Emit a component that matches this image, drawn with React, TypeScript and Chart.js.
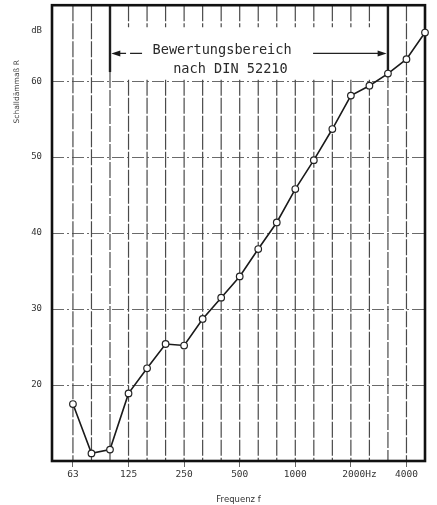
import { useEffect, useRef } from 'react';
import { Chart, registerables } from 'chart.js';

Chart.register(...registerables);

// Third-octave band centre frequencies (Hz)
const bandLabels = ['63', '80', '100', '125', '160', '200', '250', '315', '400', '500', '630', '800', '1000', '1250', '1600', '2000', '2500', '3150', '4000', '5000'];
// Schalldämmaß R (dB)
const soundReduction = [17.5, 11.0, 11.5, 18.9, 22.2, 25.4, 25.2, 28.7, 31.5, 34.3, 37.9, 41.4, 45.8, 49.6, 53.7, 58.1, 59.4, 61.0, 62.9, 66.4];

const xTickBands = ['63', '125', '250', '500', '1000', '2000', '4000'];
const xTickLabels = ['63', '125', '250', '500', '1000', '   2000Hz', '4000'];
const yTickValues = [20, 30, 40, 50, 60];
const yUnitLabel = 'dB';
const yUnitValue = 66.6;
const yTitle = 'Schalldämmaß R';
const xTitle = 'Frequenz f';

const ratingStart = '100';
const ratingEnd = '3150';
const ratingText = ['Bewertungsbereich', 'nach DIN 52210'];

const FONT_MONO = '"DejaVu Sans Mono", monospace';
const FONT_SANS = '"DejaVu Sans", sans-serif';

const idx = (f: string) => bandLabels.indexOf(f);

const overlayPlugin = {
  id: 'overlay',
  beforeDatasetsDraw(chart: any) {
    const { ctx, chartArea } = chart;
    const xs = chart.scales.x;
    const ys = chart.scales.y;
    const top = chartArea.top;
    const bottom = chartArea.bottom;
    const iStart = idx(ratingStart);
    const iEnd = idx(ratingEnd);
    const gapTop = ys.getPixelForValue(67.1);
    const gapBottom = ys.getPixelForValue(60.2);
    const thickEnd = ys.getPixelForValue(61.2);

    ctx.save();
    // vertical band lines
    for (let i = 0; i < bandLabels.length - 1; i++) {
      const x = xs.getPixelForValue(i);
      ctx.strokeStyle = '#4a4a4a';
      ctx.lineWidth = 1.2;
      ctx.setLineDash([16, 2]);
      ctx.beginPath();
      if (i > iStart && i < iEnd) {
        ctx.moveTo(x, top);
        ctx.lineTo(x, gapTop);
        ctx.moveTo(x, gapBottom);
        ctx.lineTo(x, bottom);
      } else if (i === iStart || i === iEnd) {
        ctx.moveTo(x, thickEnd);
        ctx.lineTo(x, bottom);
      } else {
        ctx.moveTo(x, top);
        ctx.lineTo(x, bottom);
      }
      ctx.stroke();
      if (i === iStart || i === iEnd) {
        ctx.setLineDash([]);
        ctx.strokeStyle = '#1e1e1e';
        ctx.lineWidth = 2.4;
        ctx.beginPath();
        ctx.moveTo(x, top);
        ctx.lineTo(x, thickEnd);
        ctx.stroke();
      }
    }
    ctx.setLineDash([]);

    // annotation text
    ctx.fillStyle = '#2a2a2a';
    ctx.font = `13.6px ${FONT_MONO}`;
    ctx.textAlign = 'center';
    ctx.textBaseline = 'middle';
    ctx.fillText(ratingText[0], xs.getPixelForValue(8.05), ys.getPixelForValue(64.1));
    ctx.fillText(ratingText[1], xs.getPixelForValue(8.5), ys.getPixelForValue(61.6));

    // arrows
    const ay = ys.getPixelForValue(63.65);
    const drawArrow = (fromV: number, toV: number, dashed: boolean) => {
      const x1 = xs.getPixelForValue(fromV);
      const x2 = xs.getPixelForValue(toV);
      const dir = Math.sign(x2 - x1);
      ctx.strokeStyle = '#222';
      ctx.lineWidth = 1.2;
      ctx.setLineDash(dashed ? [12, 4] : []);
      ctx.beginPath();
      ctx.moveTo(x1, ay);
      ctx.lineTo(x2 - dir * 6, ay);
      ctx.stroke();
      ctx.setLineDash([]);
      ctx.fillStyle = '#1a1a1a';
      ctx.beginPath();
      ctx.moveTo(x2, ay);
      ctx.lineTo(x2 - dir * 9, ay - 3);
      ctx.lineTo(x2 - dir * 9, ay + 3);
      ctx.closePath();
      ctx.fill();
    };
    drawArrow(3.73, iStart + 0.07, true);
    drawArrow(12.96, iEnd - 0.07, false);

    // frame
    ctx.strokeStyle = '#111';
    ctx.lineWidth = 2.6;
    ctx.strokeRect(chartArea.left, chartArea.top, chartArea.right - chartArea.left, chartArea.bottom - chartArea.top);

    // y axis title
    ctx.save();
    ctx.translate(17, ys.getPixelForValue(58.6));
    ctx.rotate(-Math.PI / 2);
    ctx.fillStyle = '#444';
    ctx.font = `7.5px ${FONT_SANS}`;
    ctx.textAlign = 'center';
    ctx.textBaseline = 'middle';
    ctx.fillText(yTitle, 0, 0);
    ctx.restore();

    ctx.restore();
  },
};

export default function App() {
  const ref = useRef<HTMLCanvasElement | null>(null);

  useEffect(() => {
    document.body.style.margin = '0';
    const canvas = ref.current;
    if (!canvas) return;
    const chart = new Chart(canvas, {
      type: 'line',
      data: {
        datasets: [
          {
            data: soundReduction.map((v, i) => ({ x: i, y: v })),
            borderColor: '#1a1a1a',
            borderWidth: 1.6,
            pointRadius: 3.3,
            pointBackgroundColor: '#ffffff',
            pointBorderColor: '#222',
            pointBorderWidth: 1.2,
            tension: 0,
            clip: false as any,
          },
        ],
      },
      options: {
        responsive: false,
        animation: false,
        devicePixelRatio: 1,
        layout: { padding: { top: 3, right: 12, left: 0, bottom: 0 } },
        plugins: { legend: { display: false }, tooltip: { enabled: false } },
        scales: {
          x: {
            type: 'linear',
            min: -1.13,
            max: 19,
            afterBuildTicks: (scale: any) => {
              scale.ticks = xTickBands.map((f) => ({ value: idx(f) }));
            },
            afterFit: (scale: any) => {
              scale.height = 44;
              scale.paddingLeft = 0;
              scale.paddingRight = 0;
            },
            ticks: {
              autoSkip: false,
              maxRotation: 0,
              padding: 2,
              color: '#333',
              font: { family: FONT_MONO, size: 9.5 },
              callback: (v: any) => {
                const k = xTickBands.findIndex((f) => idx(f) === v);
                return k >= 0 ? xTickLabels[k] : '';
              },
            },
            grid: { drawOnChartArea: false, drawTicks: true, tickLength: 6, color: '#666', lineWidth: 1 },
            border: { display: false },
            title: {
              display: true,
              text: xTitle,
              color: '#333',
              font: { family: FONT_SANS, size: 8.5 },
              padding: { top: 2, bottom: 0 },
            },
          },
          y: {
            type: 'linear',
            min: 10,
            max: 70,
            afterBuildTicks: (scale: any) => {
              scale.ticks = [...yTickValues, yUnitValue].map((v) => ({ value: v }));
            },
            afterFit: (scale: any) => {
              scale.width = 52;
              scale.paddingTop = 0;
              scale.paddingBottom = 0;
            },
            ticks: {
              padding: 10,
              color: '#333',
              font: { family: FONT_MONO, size: 9 },
              callback: (v: any) => (v === yUnitValue ? yUnitLabel : String(v)),
            },
            grid: {
              drawTicks: false,
              lineWidth: 1,
              color: (c: any) => (c.tick && yTickValues.includes(c.tick.value) ? '#6a6a6a' : 'rgba(0,0,0,0)'),
            },
            border: { display: false, dash: [12, 3, 2, 3] },
          },
        },
      },
      plugins: [overlayPlugin],
    });
    return () => chart.destroy();
  }, []);

  return (
    <div style={{ width: 437, height: 505, background: '#fff' }}>
      <canvas ref={ref} width={437} height={505} style={{ display: 'block' }} />
    </div>
  );
}
